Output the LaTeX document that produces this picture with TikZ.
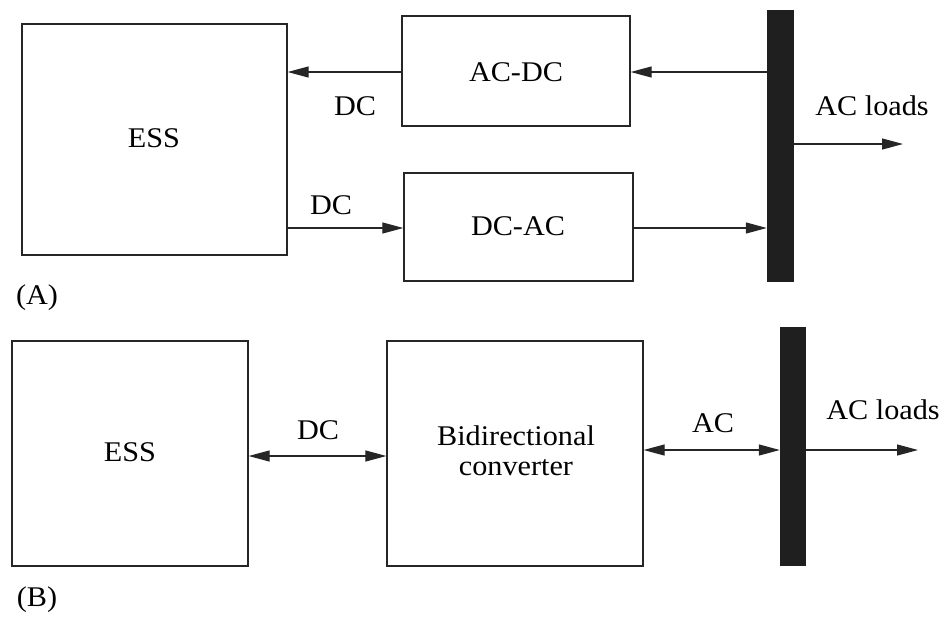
\documentclass[tikz,border=0pt]{standalone}
\usepackage{fontspec}
\setmainfont[FakeStretch=1.06]{Liberation Serif}
\usetikzlibrary{arrows.meta}
\begin{document}
\begin{tikzpicture}[x=1pt,y=-1pt,
  blk/.style={draw=black!85,line width=1.3pt,inner sep=0pt},
  bus/.style={fill=black!88,draw=none,inner sep=0pt},
  lbl/.style={font=\fontsize{28.5}{30}\selectfont,inner sep=0pt},
  conn/.style={line width=1.2pt,draw=black!85,-{Triangle[length=21pt,width=11pt]}},
  bconn/.style={line width=1.2pt,draw=black!85,{Triangle[length=21pt,width=11pt]}-{Triangle[length=21pt,width=11pt]}}]
\useasboundingbox (0,0) rectangle (945,619);

% ---- (A) separate charger and inverter ----
\node[blk,minimum width=265pt,minimum height=231pt] (essA) at (154.5,139.5) {};
\node[lbl] at (154,138) {ESS};
\node[blk,minimum width=228pt,minimum height=110pt] (acdc) at (516,71) {};
\node[lbl] at (516,72) {AC-DC};
\node[blk,minimum width=229pt,minimum height=108pt] (dcac) at (518.5,227) {};
\node[lbl] at (518,226) {DC-AC};
\node[bus,minimum width=27pt,minimum height=272pt] (busA) at (780.5,146) {};
\coordinate (loadA) at (903,144);

\draw[conn] (busA.west |- 0,72) -- (acdc.east |- 0,72);
\draw[conn] (acdc.west |- 0,72) -- (essA.east |- 0,72);
\draw[conn] (essA.east |- 0,228) -- (dcac.west |- 0,228);
\draw[conn] (dcac.east |- 0,228) -- (busA.west |- 0,228);
\draw[conn] (busA.east |- loadA) -- (loadA);

\node[lbl] (dc1) at (355,106) {DC};
\node[lbl] (dc2) at (331,205) {DC};
\node[lbl] (aclA) at (872,106) {AC loads};
\node[lbl] (capA) at (37,298) {(A)};

% ---- (B) single bidirectional converter ----
\node[blk,minimum width=236pt,minimum height=225pt] (essB) at (130,453.5) {};
\node[lbl] at (130,452) {ESS};
\node[blk,minimum width=256pt,minimum height=225pt] (bic) at (515,453.5) {};
\node[lbl,align=center] at (516,451) {Bidirectional\\converter};
\node[bus,minimum width=26pt,minimum height=239pt] (busB) at (793,446.5) {};
\coordinate (loadB) at (918,450);

\draw[bconn] (essB.east |- 0,456) -- (bic.west |- 0,456);
\draw[bconn] (bic.east |- 0,450) -- (busB.west |- 0,450);
\draw[conn] (busB.east |- loadB) -- (loadB);

\node[lbl] (dc3) at (318,430) {DC};
\node[lbl] (ac1) at (713,423) {AC};
\node[lbl] (aclB) at (883,410) {AC loads};
\node[lbl] (capB) at (37,600) {(B)};
\end{tikzpicture}
\end{document}
